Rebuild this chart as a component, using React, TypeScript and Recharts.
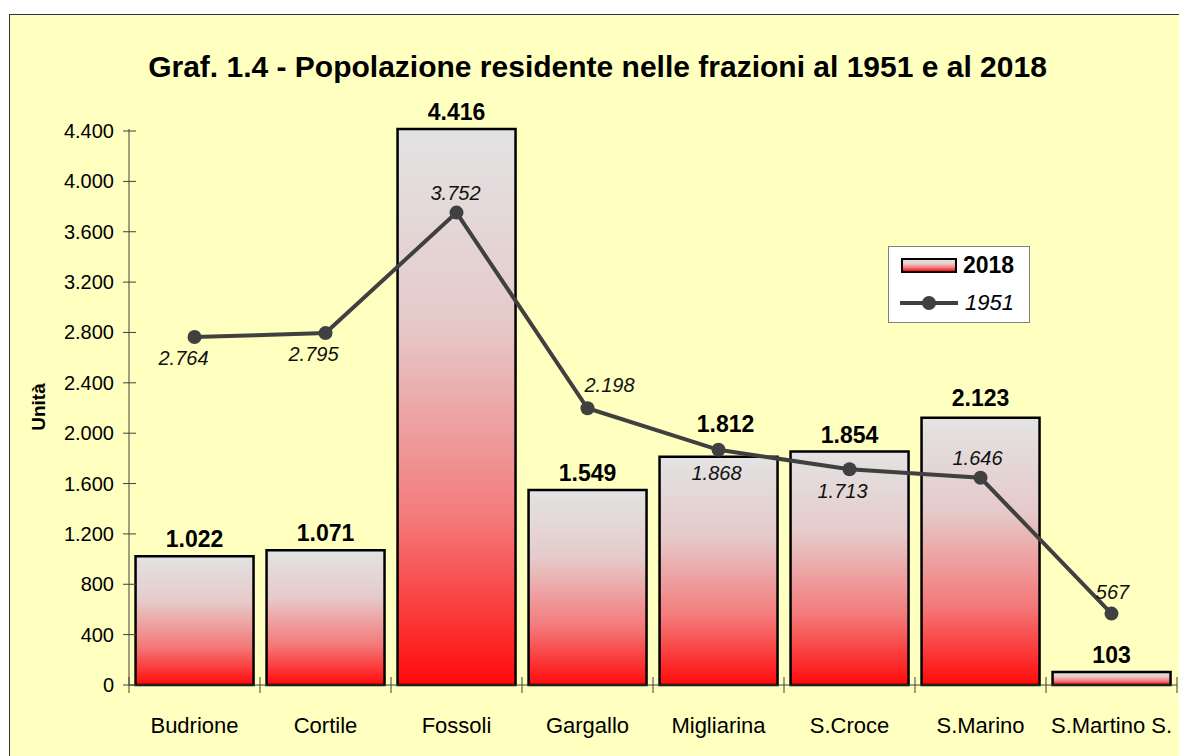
import React from "react";
import { Bar, ComposedChart, LabelList, Line, XAxis, YAxis } from "recharts";

const frazioni = ["Budrione", "Cortile", "Fossoli", "Gargallo", "Migliarina", "S.Croce", "S.Marino", "S.Martino S."];
const pop2018 = [1022, 1071, 4416, 1549, 1812, 1854, 2123, 103];
const pop1951 = [2764, 2795, 3752, 2198, 1868, 1713, 1646, 567];
const yTicks = [0, 400, 800, 1200, 1600, 2000, 2400, 2800, 3200, 3600, 4000, 4400];

const data = frazioni.map((name, i) => ({ name, v2018: pop2018[i], v1951: pop1951[i] }));

// label placement for the 1951 values, relative to the point (dx, dy)
const labelOffsets = [
	[-11, 21], [-12, 21], [-1, -20], [22, -23], [-2, 23], [-7, 22], [-3, -20], [1, -22],
];
// extra shift of the 2018 labels (moved where they would hit the line)
const barLabelShift = [
	[0, 0], [0, 0], [0, 0], [0, 0], [7, -16], [0, 0], [0, -3], [0, 0],
];

const FONT = "'Liberation Sans', Arial, sans-serif";
const HALF_BAND = 65.5;

const fmt = (v: number) => String(v).replace(/\B(?=(\d{3})+(?!\d))/g, ".");

const YTick = ({ x, y, payload }: any) => (
	<g>
		<line x1={x - 6} x2={x + 7} y1={y} y2={y} stroke="#404040" />
		<text x={x - 15} y={y + 7} textAnchor="end" fontSize={20} fill="#000" fontFamily={FONT}>
			{fmt(payload.value)}
		</text>
	</g>
);

const XTick = ({ x, y, payload, index }: any) => (
	<g>
		<line x1={x - HALF_BAND} x2={x - HALF_BAND} y1={y - 8} y2={y + 8} stroke="#404040" />
		{index === frazioni.length - 1 && (
			<line x1={x + HALF_BAND} x2={x + HALF_BAND} y1={y - 8} y2={y + 8} stroke="#404040" />
		)}
		<text x={x} y={y + 48} textAnchor="middle" fontSize={22} fill="#000" fontFamily={FONT}>
			{payload.value}
		</text>
	</g>
);

const LineLabel = ({ x, y, value, index }: any) => {
	const [dx, dy] = labelOffsets[index] || [0, -20];
	return (
		<text x={x + dx} y={y + dy + 7} textAnchor="middle" fontSize={20} fontStyle="italic" fill="#111" fontFamily={FONT}>
			{fmt(value)}
		</text>
	);
};

const BarLabel = ({ x, y, width, value, index }: any) => {
	const [dx, dy] = barLabelShift[index] || [0, 0];
	return (
		<text x={x + width / 2 + dx} y={y - 9 + dy} textAnchor="middle" fontSize={23} fontWeight="bold" fill="#000" fontFamily={FONT}>
			{fmt(value)}
		</text>
	);
};

const YLabel = ({ viewBox }: any) => {
	const cx = viewBox.x + 28;
	const cy = 392;
	return (
		<text x={cx} y={cy} transform={`rotate(-90 ${cx} ${cy})`} textAnchor="middle" dominantBaseline="central" fontSize={19} fontWeight="bold" fill="#000" fontFamily={FONT}>
			Unità
		</text>
	);
};

export default function App() {
	return (
		<div
			style={{
				position: "fixed",
				left: 9,
				top: 14,
				width: 1170,
				height: 742,
				boxSizing: "border-box",
				borderLeft: "1px solid #333",
				borderTop: "1px solid #333",
				background: "#FFFFC0",
				fontFamily: FONT,
				overflow: "hidden",
			}}
		>
			<div
				style={{
					position: "absolute",
					left: 3,
					top: 36.5,
					width: 1169,
					textAlign: "center",
					fontSize: 30,
					lineHeight: "30px",
					fontWeight: "bold",
					color: "#000",
				}}
			>
				Graf. 1.4 - Popolazione residente nelle frazioni al 1951 e al 2018
			</div>
			<ComposedChart
				width={1169}
				height={741}
				data={data}
				margin={{ top: 114, right: 2, left: 0, bottom: 0 }}
				barCategoryGap="5%"
			>
				<defs>
					<linearGradient id="barGrad" x1="0" y1="0" x2="0" y2="1">
						<stop offset="0%" stopColor="#E3E3E3" />
						<stop offset="35%" stopColor="#E6CACA" />
						<stop offset="70%" stopColor="#F47A7A" />
						<stop offset="100%" stopColor="#FF0A0A" />
					</linearGradient>
				</defs>
				<XAxis
					dataKey="name"
					height={71}
					tickSize={0}
					tickMargin={0}
					tickLine={false}
					interval={0}
					stroke="#404040"
					tick={<XTick />}
				/>
				<YAxis
					width={119}
					domain={[0, 4400]}
					ticks={yTicks}
					interval={0}
					tickSize={0}
					tickMargin={0}
					tickLine={false}
					stroke="#404040"
					tick={<YTick />}
					label={{ content: <YLabel /> }}
				/>
				<Bar dataKey="v2018" fill="url(#barGrad)" stroke="#000" strokeWidth={2.5} isAnimationActive={false}>
					<LabelList dataKey="v2018" content={<BarLabel />} />
				</Bar>
				<Line
					dataKey="v1951"
					stroke="#404040"
					strokeWidth={4}
					dot={{ r: 7, fill: "#404040", stroke: "none" }}
					activeDot={false}
					isAnimationActive={false}
				>
					<LabelList dataKey="v1951" content={<LineLabel />} />
				</Line>
			</ComposedChart>
			<div
				style={{
					position: "absolute",
					left: 878,
					top: 231,
					width: 142,
					height: 77,
					boxSizing: "border-box",
					border: "1px solid #808080",
					background: "#fff",
				}}
			>
				<div
					style={{
						position: "absolute",
						left: 12,
						top: 11,
						width: 56,
						height: 15,
						boxSizing: "border-box",
						border: "2px solid #000",
						background: "linear-gradient(#E3E3E3, #E6CACA 35%, #F47A7A 70%, #FF0A0A)",
					}}
				/>
				<div style={{ position: "absolute", left: 74, top: 5, fontSize: 23, lineHeight: "26px", fontWeight: "bold" }}>2018</div>
				<svg style={{ position: "absolute", left: 10, top: 48 }} width={60} height={16}>
					<line x1={1} x2={59} y1={8} y2={8} stroke="#404040" strokeWidth={4} />
					<circle cx={30} cy={8} r={7} fill="#404040" />
				</svg>
				<div style={{ position: "absolute", left: 76, top: 43, fontSize: 22, lineHeight: "26px", fontStyle: "italic" }}>1951</div>
			</div>
		</div>
	);
}
